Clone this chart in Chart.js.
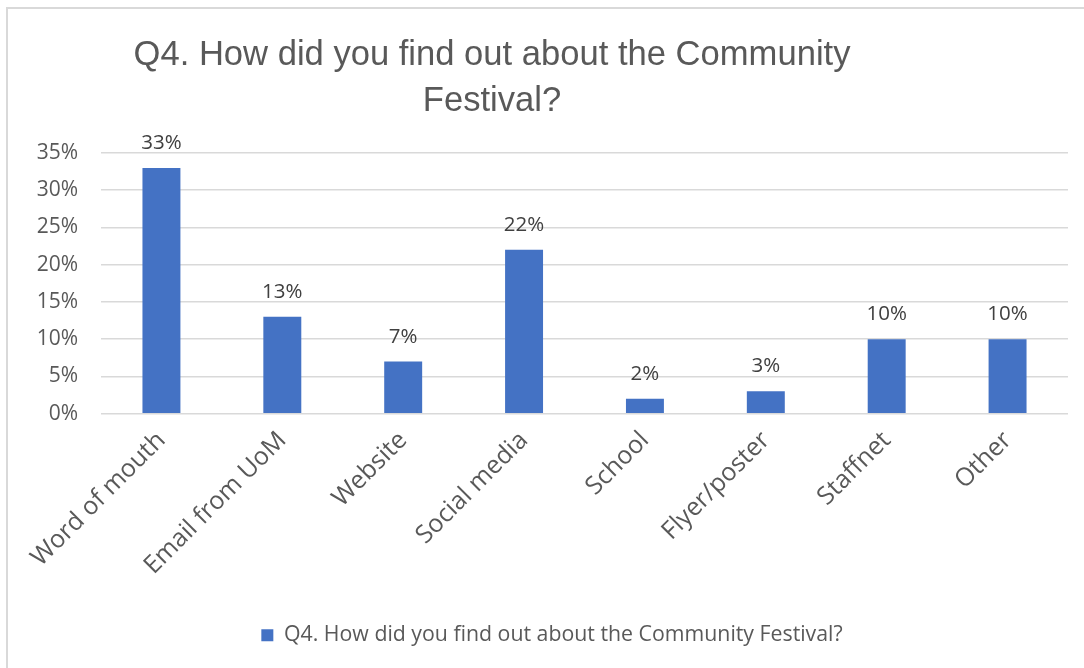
<!DOCTYPE html>
<html>
<head>
<meta charset="utf-8">
<script src="https://cdn.jsdelivr.net/npm/chart.js@4/dist/chart.umd.min.js"></script>
<style>
  html, body { margin: 0; padding: 0; background: #fff; overflow: hidden; }
  #wrap { position: relative; width: 1084px; height: 668px; }
  #frame { position: absolute; left: 6px; top: 7px; width: 1200px; height: 800px;
           border: 2px solid #d9d9d9; box-sizing: border-box; pointer-events: none; }
  canvas { position: absolute; left: 0; top: 0; }
</style>
</head>
<body>
<div id="wrap">
  <canvas id="chart" width="1084" height="668"></canvas>
  <div id="frame"></div>
</div>
<script>
// Survey answers: share of respondents per source (percent)
const categories = ['Word of mouth', 'Email from UoM', 'Website', 'Social media', 'School', 'Flyer/poster', 'Staffnet', 'Other'];
const shares = [33, 13, 7, 22, 2, 3, 10, 10];
const yTicks = [0, 5, 10, 15, 20, 25, 30, 35];
const seriesName = 'Q4. How did you find out about the Community Festival?';
const titleLines = ['Q4. How did you find out about the Community', 'Festival?'];

const BAR_BLUE = '#4472C4';
const TEXT_GREY = '#595959';
const LABEL_GREY = '#404040';
const UI_FONT = '"Open Sans", "Noto Sans", sans-serif';

// Two-line chart heading, drawn above the plot
const headingPlugin = {
  id: 'heading',
  afterDraw(chart) {
    const ctx = chart.ctx;
    ctx.save();
    ctx.fillStyle = TEXT_GREY;
    ctx.font = '34.6px "Liberation Sans", Arial, sans-serif';
    ctx.textAlign = 'center';
    ctx.textBaseline = 'alphabetic';
    const cx = 492;
    titleLines.forEach((line, i) => ctx.fillText(line, cx, 65 + i * 46));
    ctx.restore();
  }
};

// Percentage labels above each bar
const valueLabelPlugin = {
  id: 'valueLabels',
  afterDatasetsDraw(chart) {
    const ctx = chart.ctx;
    const meta = chart.getDatasetMeta(0);
    const data = chart.data.datasets[0].data;
    ctx.save();
    ctx.fillStyle = LABEL_GREY;
    ctx.font = '20.5px ' + UI_FONT;
    ctx.textAlign = 'center';
    ctx.textBaseline = 'alphabetic';
    meta.data.forEach((bar, i) => {
      ctx.fillText(data[i] + '%', bar.x, bar.y - 19);
    });
    ctx.restore();
  }
};

new Chart(document.getElementById('chart'), {
  type: 'bar',
  data: {
    labels: categories,
    datasets: [{
      label: seriesName,
      data: shares,
      backgroundColor: BAR_BLUE,
      borderWidth: 0,
      categoryPercentage: 1.0,
      barPercentage: 0.314
    }]
  },
  options: {
    responsive: false,
    animation: false,
    devicePixelRatio: 1,
    layout: { padding: { top: 153, left: 36, right: 16, bottom: 12 } },
    scales: {
      x: {
        grid: { display: false },
        border: { display: false },
        ticks: {
          color: TEXT_GREY,
          font: { family: UI_FONT, size: 25 },
          minRotation: 45,
          maxRotation: 45,
          padding: 4
        },
        afterFit(scale) {
          scale.height = 202;
          // rotated labels may hang past the plot edges
          scale.paddingLeft = 0;
          scale.paddingRight = 0;
        }
      },
      y: {
        min: 0,
        max: 35,
        afterBuildTicks(scale) { scale.ticks = yTicks.map(v => ({ value: v })); },
        grid: { color: '#d9d9d9', lineWidth: 1.5, drawTicks: false },
        border: { display: false },
        ticks: {
          color: TEXT_GREY,
          font: { family: UI_FONT, size: 21 },
          padding: 23,
          callback: v => v + '%'
        },
        afterFit(scale) { scale.width = 65; }
      }
    },
    plugins: {
      legend: {
        position: 'bottom',
        labels: {
          color: TEXT_GREY,
          font: { family: UI_FONT, size: 21.3 },
          boxWidth: 12,
          boxHeight: 12,
          padding: 9
        }
      },
      tooltip: { enabled: false }
    }
  },
  plugins: [headingPlugin, valueLabelPlugin]
});
</script>
</body>
</html>
